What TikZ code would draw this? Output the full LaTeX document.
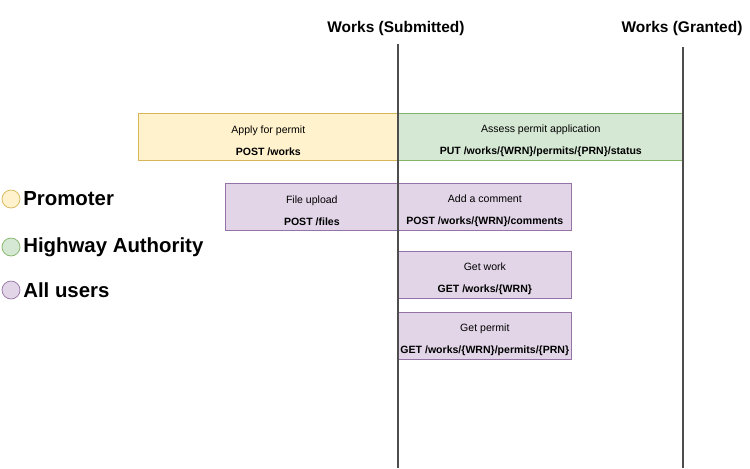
\documentclass[tikz,border=0pt]{standalone}
\usepackage{fontspec}
\setmainfont{Liberation Sans}
\usetikzlibrary{positioning}
\definecolor{promfill}{HTML}{FFF2CC}
\definecolor{promline}{HTML}{D6B656}
\definecolor{hafill}{HTML}{D5E8D4}
\definecolor{haline}{HTML}{82B366}
\definecolor{allfill}{HTML}{E1D5E7}
\definecolor{allline}{HTML}{9673A6}
\definecolor{laneline}{HTML}{4D4D4D}

\begin{document}
\begin{tikzpicture}[x=0.02cm, y=-0.02cm,
  box/.style={draw, rectangle, inner sep=0pt, minimum height=0.94cm, align=center,
    anchor=north west, font=\fontsize{6}{12.8}\selectfont,
    execute at begin node={\rule{0pt}{21.5pt}}},
  prom/.style={box, fill=promfill, draw=promline, minimum width=5.2cm},
  ha/.style={box, fill=hafill, draw=haline, minimum width=5.7cm},
  all/.style={box, fill=allfill, draw=allline, minimum width=3.46cm},
  title/.style={font=\fontsize{8.8}{10}\selectfont\bfseries, inner sep=0pt},
  lane/.style={draw=laneline, line width=0.6pt},
  dot/.style={circle, draw, inner sep=0pt, minimum size=0.36cm},
  legend/.style={font=\fontsize{11.6}{13}\selectfont\bfseries, inner sep=0pt}]

  \useasboundingbox (0,0) rectangle (750,468);

  % lane titles
  \node[title] (submitted) at (396,28) {Works (Submitted)};
  \node[title] (granted) at (682,28) {Works (Granted)};

  % boxes
  \node[prom] (apply) at (138,113) {Apply for permit\\\textbf{POST /works}};
  \node[ha] (assess) at (398,113) {Assess permit application\\\textbf{PUT /works/\{WRN\}/permits/\{PRN\}/status}};
  \node[all] (upload) at (225,183) {File upload\\\textbf{POST /files}};
  \node[all] (comment) at (398,183) {Add a comment\\\textbf{POST /works/\{WRN\}/comments}};
  \node[all] (getwork) at (398,251) {Get work\\\textbf{GET /works/\{WRN\}}};
  \node[all] (getpermit) at (398,312) {Get permit\\\textbf{GET /works/\{WRN\}/permits/\{PRN\}}};

  % lanes
  \coordinate (subtop) at (398,44);
  \coordinate (subend) at (398,468);
  \coordinate (grtop) at (683,47);
  \coordinate (grend) at (683,468);
  \draw[lane] (subtop) -- (subend);
  \draw[lane] (grtop) -- (grend);

  % legend
  \node[dot, fill=promfill, draw=promline] (promdot) at (11,199) {};
  \node[legend, right=1.5pt of promdot] (promtext) {Promoter};
  \node[dot, fill=hafill, draw=haline] (hadot) at (11,247) {};
  \node[legend, right=1.5pt of hadot] (hatext) {Highway Authority};
  \node[dot, fill=allfill, draw=allline] (alldot) at (11,290) {};
  \node[legend, right=1.5pt of alldot] (alltext) {All users};

\end{tikzpicture}
\end{document}
